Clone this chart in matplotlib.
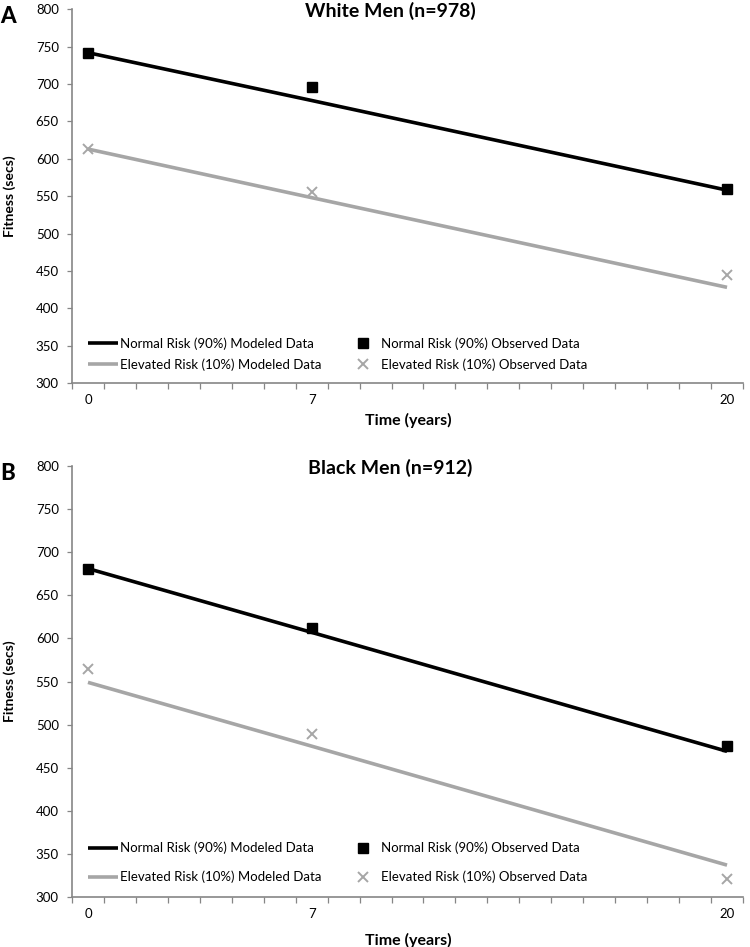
import numpy as np
import matplotlib
matplotlib.use("Agg")
from matplotlib import pyplot as plt

plt.rcParams['font.family'] = ['Lato', 'DejaVu Sans']

years = [0, 7, 20]
tick_labels = ['0', '7', '20']

panels = ['A', 'B']
titles = ['White Men (n=978)', 'Black Men (n=912)']

# modeled (fitted lines) and observed values, secs
normal_model = [[742, 678, 558], [681, 607, 469]]
normal_obs = [[742, 696, 560], [681, 612, 475]]
elev_model = [[613, 548, 428], [549, 475, 337]]
elev_obs = [[613, 555, 444], [565, 489, 321]]

labels = ['Normal Risk (90%) Modeled Data', 'Elevated Risk (10%) Modeled Data',
          'Normal Risk (90%) Observed Data', 'Elevated Risk (10%) Observed Data']

W, H = 750, 947
fig = plt.figure(figsize=(W / 100, H / 100), dpi=100)

# axes boxes in pixels: left, top, right, bottom
boxes = [(72, 9.3, 743, 383), (72, 466, 743, 897)]
legend_rows = [(353, 324), (357, 323)]
axis_grey = '#868686'
grey = '#A6A6A6'

for i in range(2):
    l, t, r, b = boxes[i]
    ax = fig.add_axes([l / W, 1 - b / H, (r - l) / W, (b - t) / H])

    h1, = ax.plot(years, normal_model[i], color='black', lw=2.6, solid_capstyle='butt')
    h2, = ax.plot(years, elev_model[i], color=grey, lw=2.6, solid_capstyle='butt')
    h3, = ax.plot(years, normal_obs[i], ls='none', marker='s', ms=6.5, color='black')
    h4, = ax.plot(years, elev_obs[i], ls='none', marker='x', ms=7, mew=1.4, color=grey)

    ax.set_xlim(-0.5, 20.5)
    ax.set_ylim(300, 800)
    ax.set_yticks(np.arange(300, 801, 50))
    ax.set_xticks(np.arange(-0.5, 20.6, 1))
    ax.set_xticklabels([])
    ax.set_xticks(years, minor=True)
    ax.set_xticklabels(tick_labels, minor=True)
    ax.tick_params(axis='x', which='major', length=4.5, width=0.9, color=axis_grey)
    ax.tick_params(axis='x', which='minor', length=0, pad=8, labelsize=9.5)
    ax.tick_params(axis='y', length=3.5, width=0.9, color=axis_grey, pad=6, labelsize=9.5)

    for s in ['top', 'right']:
        ax.spines[s].set_visible(False)
    for s in ['left', 'bottom']:
        ax.spines[s].set_color(axis_grey)
        ax.spines[s].set_linewidth(1.2)

    fig.text(390 / W, 1 - 11 / H - (t - 9.3) / H, titles[i], ha='center', va='center',
             fontsize=14, fontweight='bold')
    fig.text(0 / W, 1 - (t - 3) / H, panels[i], ha='left', va='top',
             fontsize=16, fontweight='black')
    fig.text(10 / W, 1 - ((t + b) / 2) / H, 'Fitness (secs)', rotation=90,
             ha='center', va='center', fontsize=10, fontweight='bold')
    xlab_y = b + (37 if i == 0 else 43.5)
    fig.text(408 / W, 1 - xlab_y / H, 'Time (years)', ha='center', va='center',
             fontsize=11.5, fontweight='bold')

    row1, row2 = legend_rows[i]
    gap_px = (row1 - row2) / 500 * (b - t)
    fs = 9.5
    lsp = (gap_px - fs * 100 / 72) / (fs * 100 / 72)
    leg = ax.legend([h1, h2, h3, h4], labels, ncol=2, frameon=False,
                    loc='center left', fontsize=fs,
                    bbox_to_anchor=((88 - l) / (r - l), ((row1 + row2) / 2 - 300) / 500),
                    borderpad=0, borderaxespad=0, handlelength=2.3, handletextpad=0.15,
                    columnspacing=2.0, labelspacing=lsp)

fig.savefig('out.png', dpi=100)
